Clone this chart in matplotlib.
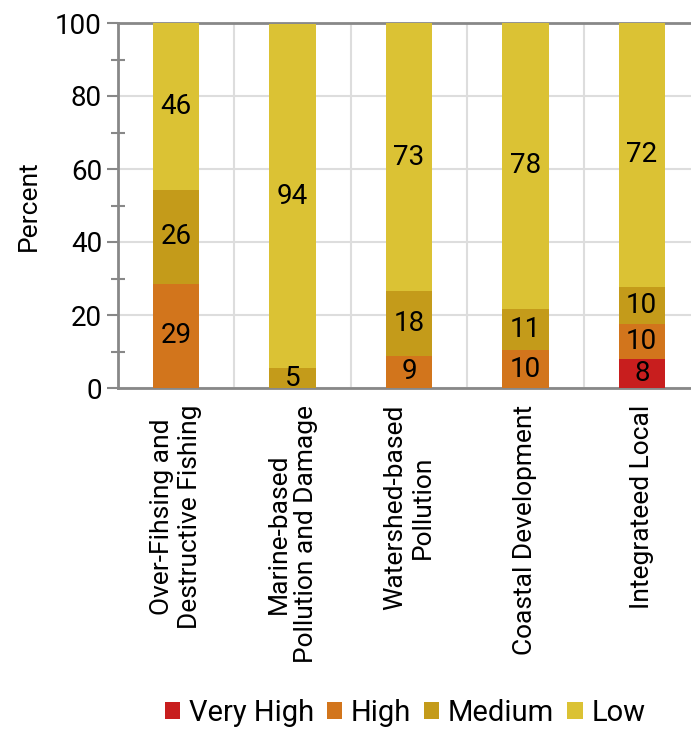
import numpy as np
import matplotlib
matplotlib.use("Agg")
import matplotlib.pyplot as plt

plt.rcParams['font.family'] = ['Roboto', 'DejaVu Sans']

categories = [
    "Over-Fihsing and\nDestructive Fishing",
    "Marine-based\nPollution and Damage",
    "Watershed-based\nPollution",
    "Coastal Development",
    "Integrateed Local",
]
levels = ["Very High", "High", "Medium", "Low"]
very_high = [0, 0, 0, 0, 7.9]
high = [28.6, 0, 8.9, 10.3, 9.5]
medium = [25.7, 5.4, 17.6, 11.4, 10.3]
low = [45.7, 94.4, 73.4, 78.3, 72.3]
colors = ["#C81E1E", "#D2751C", "#C49B1A", "#DBC234"]

fig = plt.figure(figsize=(6.91, 7.31), dpi=100)
ax = fig.add_axes([118 / 691, 1 - 388 / 731, (700 - 118) / 691, (388 - 23) / 731])

x = np.arange(len(categories))
bottom = np.zeros(len(categories))
for name, vals, col in zip(levels, [very_high, high, medium, low], colors):
    vals = np.array(vals, dtype=float)
    ax.bar(x, vals, width=0.4, bottom=bottom, color=col, label=name, zorder=3)
    for xi, b, v in zip(x, bottom, vals):
        if v > 0:
            ax.text(xi, b + v / 2, f"{round(v)}", ha="center", va="center",
                    fontsize=20, color="black", zorder=4)
    bottom += vals

ax.set_xlim(-0.5, 4.5)
ax.set_ylim(0, 100)
ax.set_yticks(np.arange(0, 101, 20))
ax.set_yticks(np.arange(10, 100, 20), minor=True)
ax.set_xticks(x)
ax.set_xticklabels(categories, rotation=90, fontsize=19, multialignment="center")
ax.set_xticks(np.arange(0.5, 4.5, 1), minor=True)

ax.grid(axis="y", which="major", color="#dddddd", linewidth=1.5, zorder=0)
ax.grid(axis="x", which="minor", color="#dddddd", linewidth=1.5, zorder=0)

ax.tick_params(axis="y", which="major", labelsize=20, length=8, width=1.5, color="#888888")
ax.tick_params(axis="y", which="minor", length=10, width=1.5, direction="inout", color="#888888")
ax.tick_params(axis="x", which="both", length=0, pad=12)

for s in ["left", "bottom", "top"]:
    ax.spines[s].set_color("#888888")
    ax.spines[s].set_linewidth(2)
ax.spines["right"].set_visible(False)

ax.set_ylabel("Percent", fontsize=19, labelpad=10)

fig.legend(loc="center", bbox_to_anchor=(405 / 691, 1 - 713 / 731), ncol=4, frameon=False,
           fontsize=21, handlelength=0.52, handleheight=0.52, handletextpad=0.3, columnspacing=0.45)

fig.savefig("out.png", dpi=100)
